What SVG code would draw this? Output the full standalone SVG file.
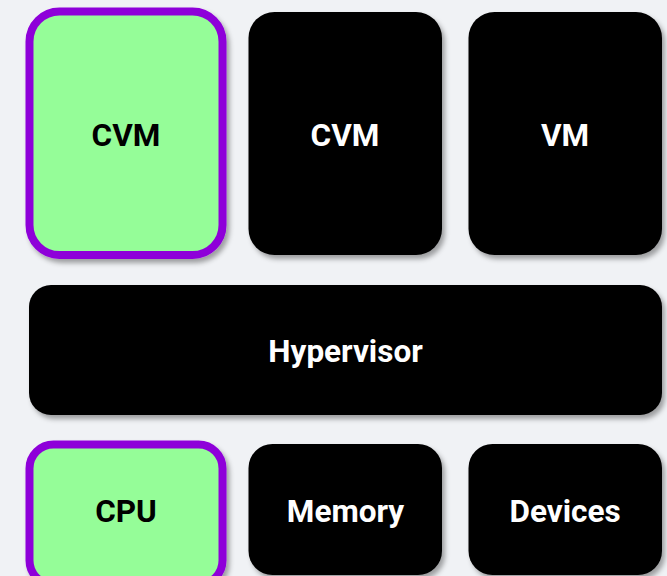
<svg xmlns="http://www.w3.org/2000/svg" width="667" height="576" viewBox="0 0 667 576">
  <defs>
    <filter id="shadow" x="-10%" y="-10%" width="125%" height="130%">
      <feDropShadow dx="3" dy="4" stdDeviation="2.5" flood-color="#000" flood-opacity="0.35"/>
    </filter>
  </defs>
  <style>
    .box { fill: #000; filter: url(#shadow); }
    .hl { fill: #95fd98; stroke: #8e06d9; stroke-width: 8; filter: url(#shadow); }
    .lbl { font-family: Roboto, "Liberation Sans", sans-serif; font-weight: bold; font-size: 31.5px; text-anchor: middle; }
    .w { fill: #fff; }
    .k { fill: #000; }
  </style>
  <rect width="667" height="576" fill="#f0f2f5"/>

  <g id="cvm1">
    <rect class="hl" x="29.5" y="11.5" width="193" height="243.5" rx="30"/>
    <text class="lbl k" x="126" y="145.5">CVM</text>
  </g>
  <g id="cvm2">
    <rect class="box" x="248.5" y="12" width="193.5" height="243" rx="26"/>
    <text class="lbl w" x="345" y="145.5">CVM</text>
  </g>
  <g id="vm">
    <rect class="box" x="468.5" y="12" width="193.5" height="243" rx="26"/>
    <text class="lbl w" x="565" y="145.5">VM</text>
  </g>

  <g id="hypervisor">
    <rect class="box" x="29" y="285" width="633" height="130" rx="22"/>
    <text class="lbl w" x="345.5" y="362">Hypervisor</text>
  </g>

  <g id="cpu">
    <rect class="hl" x="29.5" y="444.5" width="193" height="140" rx="24"/>
    <text class="lbl k" x="126" y="522">CPU</text>
  </g>
  <g id="memory">
    <rect class="box" x="248.5" y="444" width="193.5" height="131" rx="24"/>
    <text class="lbl w" x="345.5" y="522">Memory</text>
  </g>
  <g id="devices">
    <rect class="box" x="468.5" y="444" width="193.5" height="131" rx="24"/>
    <text class="lbl w" x="565" y="522">Devices</text>
  </g>

  <g id="connectors"/>
</svg>
